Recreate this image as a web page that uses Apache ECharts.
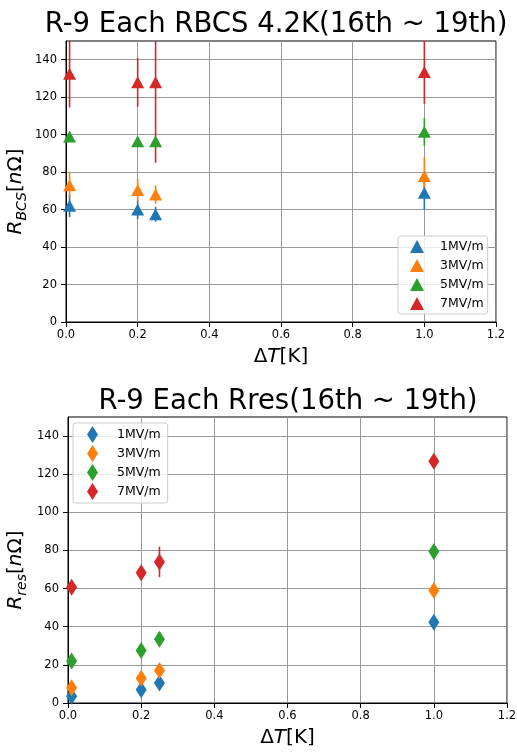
<!DOCTYPE html>
<html>
<head>
<meta charset="utf-8">
<script src="https://cdn.jsdelivr.net/npm/echarts@6/dist/echarts.min.js"></script>
<style>
html, body { margin: 0; padding: 0; background: #fff; }
#main { width: 517px; height: 755px; }
</style>
</head>
<body>
<div id="main"></div>
<script>
// delta T [K]
var dT = [0.01, 0.2, 0.25, 1.0];
var fields = ['1MV/m', '3MV/m', '5MV/m', '7MV/m'];
var colors = ['#1f77b4', '#ff7f0e', '#2ca02c', '#d62728'];

// R_BCS [nOhm] and errors
var rbcs1 = [62, 60, 57.5, 69];
var rbcs3 = [73, 70.5, 68, 78];
var rbcs5 = [99, 96.5, 96.5, 101.5];
var rbcs7 = [132.5, 128, 128, 133.5];
var rbcsErr1 = [6, 5, 4, 9];
var rbcsErr3 = [7, 6, 5, 10];
var rbcsErr5 = [1.5, 1.5, 1.5, 7.5];
var rbcsErr7 = [18, 13, 43, 17];

// R_res [nOhm] and errors
var rres1 = [3.5, 7, 10.5, 42.3];
var rres3 = [8, 13, 17, 59];
var rres5 = [22, 27.5, 33.5, 79.5];
var rres7 = [60.7, 68.3, 74, 126.8];
var rresErr1 = [1.5, 1.5, 1.5, 1];
var rresErr3 = [1.5, 1.5, 2, 1];
var rresErr5 = [1.5, 1.5, 2, 1];
var rresErr7 = [1.5, 2, 8, 1];

var xTicks = [0, 0.2, 0.4, 0.6, 0.8, 1.0, 1.2];
var yTicks = [0, 20, 40, 60, 80, 100, 120, 140];

var FONT = 'DejaVu Sans';
var myChart = echarts.init(document.getElementById('main'));

function xAxisOpt(gi) {
  return {
    gridIndex: gi, type: 'value', min: 0, max: 1.2, interval: 0.2,
    name: '{n|Δ}{i|T}{n|[K]}', nameLocation: 'middle', nameGap: 24,
    nameTextStyle: { rich: {
      n: { fontFamily: FONT, fontSize: 20, color: '#000', lineHeight: 22 },
      i: { fontFamily: FONT, fontSize: 20, color: '#000', lineHeight: 22, fontStyle: 'italic' }
    } },
    axisLine: { show: true, onZero: false, lineStyle: { color: '#000', width: 1 } },
    axisTick: { show: true, length: 5, lineStyle: { color: '#000' } },
    axisLabel: { fontFamily: FONT, fontSize: 11.5, color: '#000', margin: 7,
      formatter: function (v) { return v.toFixed(1); } },
    splitLine: { show: true, lineStyle: { color: '#999', width: 1 } }
  };
}

function yAxisOpt(gi, sub, gap) {
  return {
    gridIndex: gi, type: 'value', min: 0, max: 150, interval: 20,
    name: '{i|R}{s|' + sub + '}{n|[}{i|n}{n|Ω]}', nameLocation: 'middle', nameGap: gap,
    nameMoveOverlap: false,
    nameTextStyle: { padding: [0, 20, 0, 0], rich: {
      n: { fontFamily: FONT, fontSize: 20, color: '#000', lineHeight: 26 },
      i: { fontFamily: FONT, fontSize: 20, color: '#000', lineHeight: 26, fontStyle: 'italic' },
      s: { fontFamily: FONT, fontSize: 14, color: '#000', lineHeight: 14, fontStyle: 'italic', verticalAlign: 'bottom' }
    } },
    axisLine: { show: true, lineStyle: { color: '#000', width: 1 } },
    axisTick: { show: true, length: 5, lineStyle: { color: '#000' }, customValues: yTicks },
    axisLabel: { fontFamily: FONT, fontSize: 11.5, color: '#000', margin: 9, customValues: yTicks },
    splitLine: { show: true, lineStyle: { color: '#999', width: 1 } }
  };
}

var series = [];
function addField(gi, name, vals, errs, color, symbol, size) {
  series.push({
    type: 'custom', xAxisIndex: gi, yAxisIndex: gi, clip: true, silent: true,
    data: dT.map(function (x, i) { return [x, vals[i] - errs[i], vals[i] + errs[i]]; }),
    encode: { x: 0, y: [1, 2] },
    renderItem: function (params, api) {
      var p1 = api.coord([api.value(0), api.value(1)]);
      var p2 = api.coord([api.value(0), api.value(2)]);
      return { type: 'line', shape: { x1: p1[0], y1: p1[1], x2: p2[0], y2: p2[1] },
        style: { stroke: color, lineWidth: 1.6 } };
    }
  });
  series.push({
    name: name, type: 'scatter', xAxisIndex: gi, yAxisIndex: gi,
    symbol: symbol, symbolSize: size, clip: true,
    itemStyle: { color: color, opacity: 1 },
    data: dT.map(function (x, i) { return [x, vals[i]]; })
  });
}

var rbcs = [rbcs1, rbcs3, rbcs5, rbcs7];
var rbcsErr = [rbcsErr1, rbcsErr3, rbcsErr5, rbcsErr7];
var rres = [rres1, rres3, rres5, rres7];
var rresErr = [rresErr1, rresErr3, rresErr5, rresErr7];
for (var k = 0; k < 4; k++) addField(0, fields[k], rbcs[k], rbcsErr[k], colors[k], 'triangle', [13, 12]);
for (var k = 0; k < 4; k++) addField(1, 'res:' + fields[k], rres[k], rresErr[k], colors[k], 'diamond', [11, 17]);

var legendBase = {
  orient: 'vertical', backgroundColor: 'rgba(255,255,255,0.8)',
  borderColor: '#ccc', borderWidth: 1, borderRadius: 3,
  formatter: function (n) { return n.replace('res:', ''); },
  selectedMode: false
};

myChart.setOption({
  animation: false,
  title: [
    { text: 'R-9 Each RBCS 4.2K(16th ~ 19th)', left: 276, top: 11, textAlign: 'center', padding: 0,
      textStyle: { fontFamily: FONT, fontSize: 27.5, fontWeight: 'normal', color: '#000' } },
    { text: 'R-9 Each Rres(16th ~ 19th)', left: 288, top: 388, textAlign: 'center', padding: 0,
      textStyle: { fontFamily: FONT, fontSize: 27.5, fontWeight: 'normal', color: '#000' } }
  ],
  grid: [
    { left: 66, top: 41, width: 430, height: 281, outerBoundsMode: 'none', show: true,
      borderColor: '#000', borderWidth: 1, backgroundColor: 'transparent' },
    { left: 68, top: 417, width: 439, height: 286, outerBoundsMode: 'none', show: true,
      borderColor: '#000', borderWidth: 1, backgroundColor: 'transparent' }
  ],
  xAxis: [xAxisOpt(0), xAxisOpt(1)],
  yAxis: [yAxisOpt(0, 'BCS', 37), yAxisOpt(1, 'res', 39)],
  legend: [
    Object.assign({}, legendBase, {
      left: 398, top: 236, padding: [4, 4, 4, 12], itemWidth: 14, itemHeight: 13, itemGap: 6,
      data: fields.map(function (f) { return { name: f, icon: 'triangle' }; }),
      textStyle: { fontFamily: FONT, fontSize: 12.5, color: '#000', padding: [0, 0, 0, 11], lineHeight: 13 }
    }),
    Object.assign({}, legendBase, {
      left: 73, top: 423, padding: [3, 7, 3, 14], itemWidth: 11, itemHeight: 17, itemGap: 2,
      data: fields.map(function (f) { return { name: 'res:' + f, icon: 'diamond' }; }),
      textStyle: { fontFamily: FONT, fontSize: 12.5, color: '#000', padding: [0, 0, 0, 14], lineHeight: 13 }
    })
  ],
  series: series
});
</script>
</body>
</html>
